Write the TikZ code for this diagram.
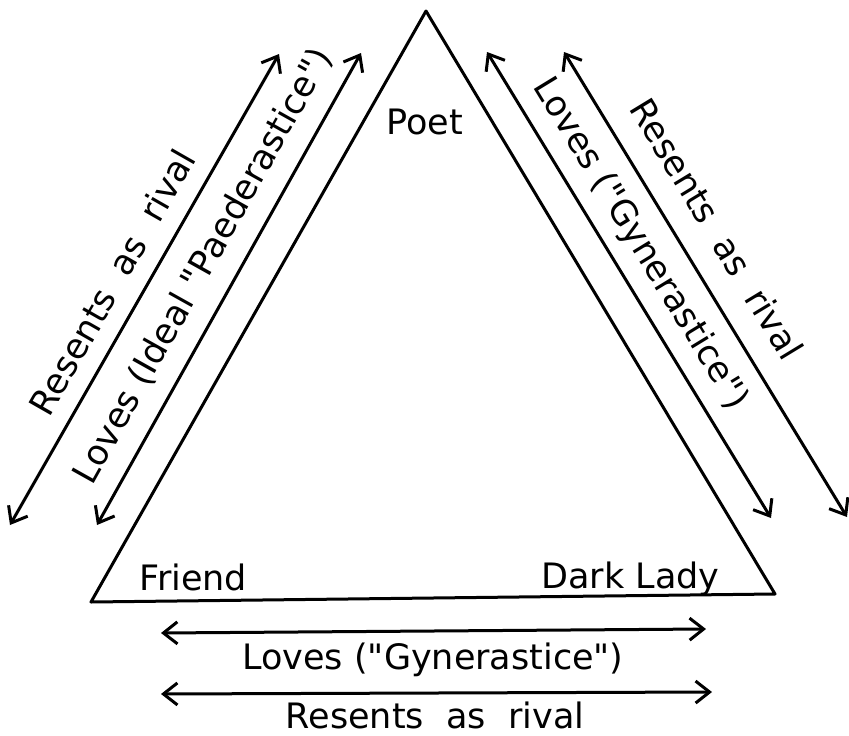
\documentclass[tikz,border=0pt]{standalone}
\usepackage{fontspec}
\setmainfont{DejaVu Sans}
\usetikzlibrary{arrows.meta}
\newcommand{\dq}{\textquotedbl}
\begin{document}
\begin{tikzpicture}[x=1pt,y=-1pt, line width=3pt, line cap=round, line join=round,
  dbl/.style={{Straight Barb[length=14pt,width=22pt]}-{Straight Barb[length=14pt,width=22pt]}},
  lbl/.style={font=\fontsize{35}{38}\selectfont, inner sep=0pt}]
\useasboundingbox (0,0) rectangle (849,736);
% triangle
\coordinate (apex) at (426,11);
\coordinate (bl) at (91,602);
\coordinate (br) at (775,594);
\draw (apex) -- (bl) -- (br) -- cycle;
% corner labels
\node[lbl, anchor=base west] (poet) at (385,134) {Poet};
\node[lbl, anchor=base west] (friend) at (138,590) {Friend};
\node[lbl, anchor=base west] (lady) at (540,588) {Dark Lady};
% left arrows
\coordinate (lo1) at (10,525);  \coordinate (lo2) at (279,54);
\coordinate (li1) at (97,525);  \coordinate (li2) at (361,53);
\draw[dbl] (lo1) -- (lo2);
\draw[dbl] (li1) -- (li2);
\node[lbl, rotate=60.3] (lotext) at (112,282) {Resents\ \ as\ \ rival};
\node[lbl, rotate=60.8] (litext) at (203,266) {Loves (Ideal \dq Paederastice\dq)};
% right arrows
\coordinate (ri1) at (487,52);  \coordinate (ri2) at (771,518);
\coordinate (ro1) at (564,52);  \coordinate (ro2) at (847,517);
\draw[dbl] (ri1) -- (ri2);
\draw[dbl] (ro1) -- (ro2);
\node[lbl, rotate=-58.6] (ritext) at (640,244) {Loves (\dq Gynerastice\dq)};
\node[lbl, rotate=-58.7] (rotext) at (717,229) {Resents\ \ as\ \ rival};
% bottom arrows
\coordinate (b11) at (161,633); \coordinate (b12) at (706,629);
\coordinate (b21) at (161,694); \coordinate (b22) at (712,692);
\draw[dbl] (b11) -- (b12);
\draw[dbl] (b21) -- (b22);
\node[lbl] (b1text) at (433,660) {Loves (\dq Gynerastice\dq)};
\node[lbl] (b2text) at (435,715) {Resents\ \ as\ \ rival};
\end{tikzpicture}
\end{document}
